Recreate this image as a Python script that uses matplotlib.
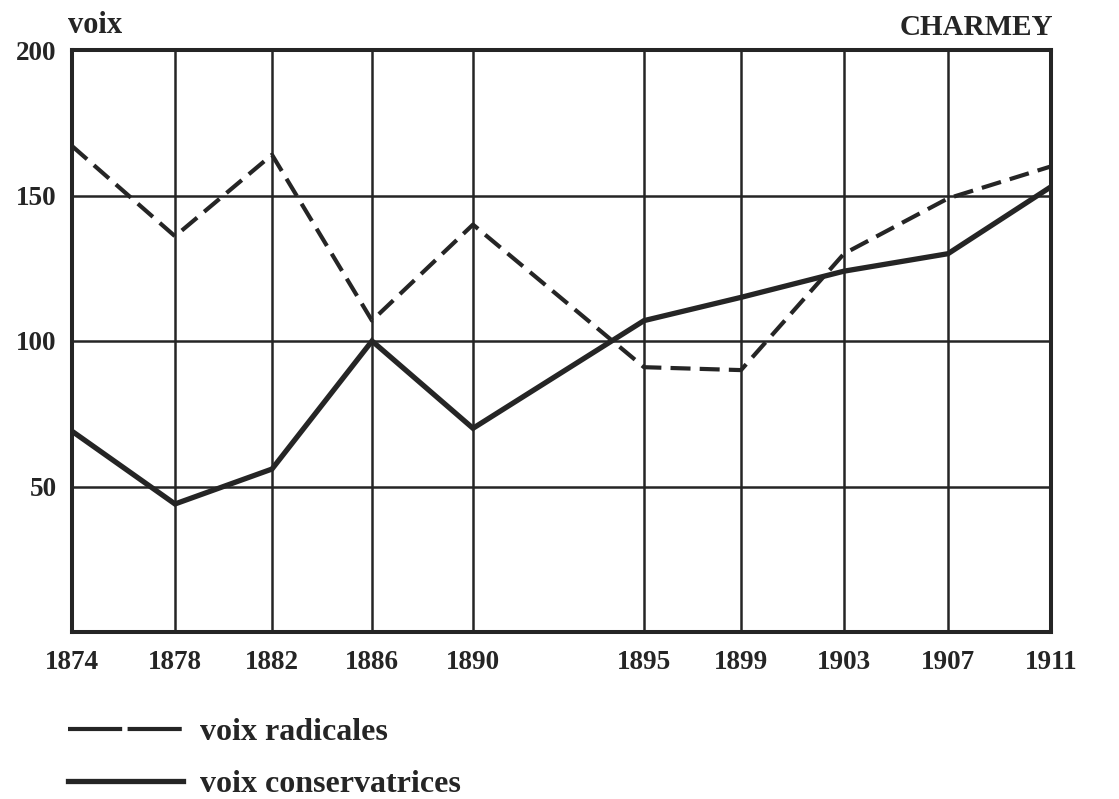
import matplotlib
matplotlib.use("Agg")
import matplotlib.pyplot as plt
from matplotlib.lines import Line2D

# election years and their column positions on the original (uneven) axis
years = [1874, 1878, 1882, 1886, 1890, 1895, 1899, 1903, 1907, 1911]
col_pos = [0, 103, 200, 300, 401, 572, 669, 772, 876, 979]

voix_radicales = [167, 136, 164, 107, 140, 91, 90, 130, 149, 160]
voix_conservatrices = [69, 44, 56, 100, 70, 107, 115, 124, 130, 153]

y_ticks = [50, 100, 150, 200]

ink = "#252525"
serif = ["Liberation Serif", "DejaVu Serif"]
plt.rcParams["font.family"] = serif
plt.rcParams["font.weight"] = "bold"

fig = plt.figure(figsize=(11.19, 7.99), dpi=100)
ax = fig.add_axes([72 / 1119, 1 - 632 / 799, 979 / 1119, 582 / 799])

ax.set_xlim(col_pos[0], col_pos[-1])
ax.set_ylim(0, 200)

# grid
for x in col_pos[1:-1]:
    ax.axvline(x, color=ink, lw=1.8, zorder=1)
for y in y_ticks[:-1]:
    ax.axhline(y, color=ink, lw=1.8, zorder=1)
for side in ["left", "right", "top", "bottom"]:
    ax.spines[side].set_linewidth(2.9)
    ax.spines[side].set_color(ink)

ax.plot(col_pos, voix_radicales, color=ink, lw=3.0,
        linestyle=(0, (4.8, 2.2)), zorder=3)
ax.plot(col_pos, voix_conservatrices, color=ink, lw=3.8,
        solid_joinstyle="miter", zorder=3)

ax.set_xticks(col_pos)
ax.set_xticklabels([str(y) for y in years], fontsize=19.5)
ax.set_yticks(y_ticks)
ax.set_yticklabels([str(v) for v in y_ticks], fontsize=19.5)
ax.tick_params(length=0, colors=ink)
ax.tick_params(axis="x", pad=13)
ax.tick_params(axis="y", pad=11)

fig.text(68 / 1119, 1 - 33 / 799, "voix", fontsize=22, color=ink,
         ha="left", va="baseline")
fig.text(1053 / 1119, 1 - 35 / 799, "CHARMEY", fontsize=21, color=ink,
         ha="right", va="baseline")

handles = [
    Line2D([], [], color=ink, lw=3.0, linestyle=(0, (13, 1.3))),
    Line2D([], [], color=ink, lw=3.8),
]
fig.legend(handles, ["voix radicales", "voix conservatrices"],
           loc="upper left", bbox_to_anchor=(39 / 1119, 1 - 689 / 799),
           frameon=False, fontsize=23, handlelength=3.6,
           handletextpad=0.55, labelspacing=0.72, labelcolor=ink)

fig.savefig("out.png", dpi=100, facecolor="white")
